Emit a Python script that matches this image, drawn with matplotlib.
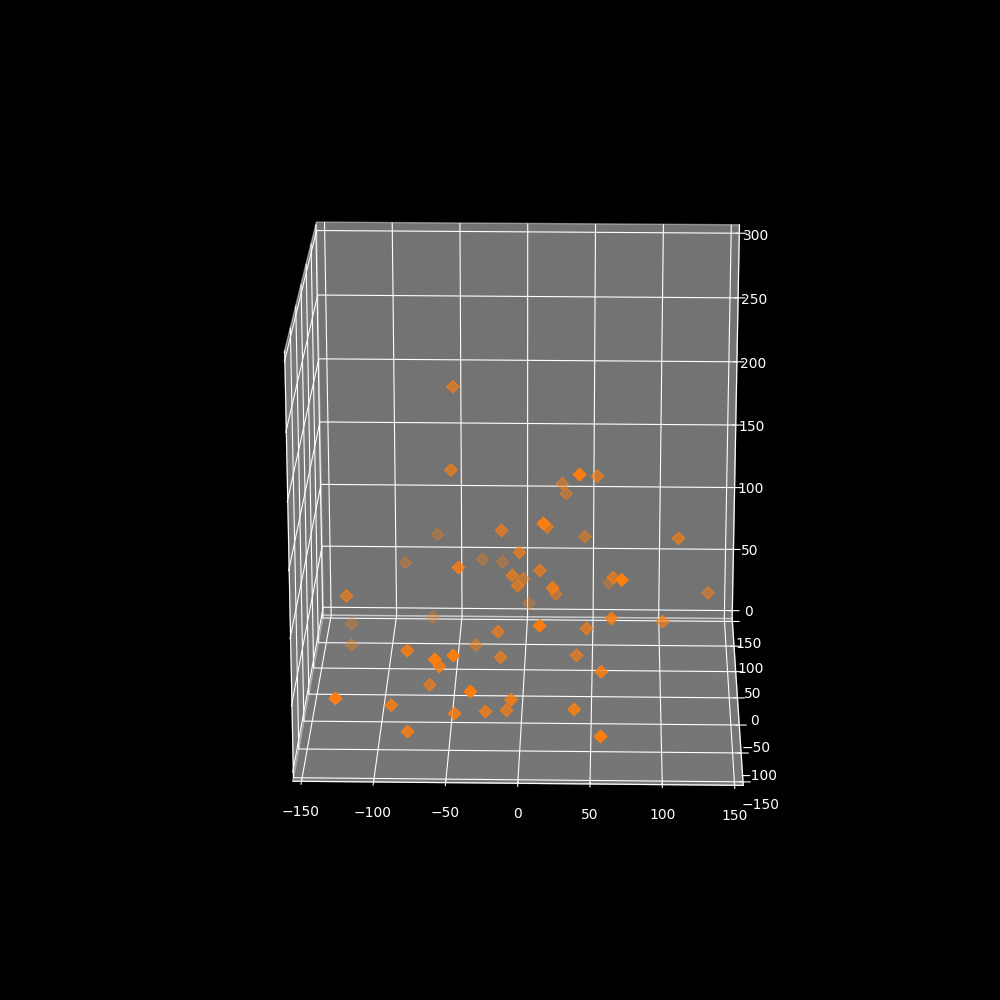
import matplotlib
matplotlib.use('Agg')
import matplotlib.pyplot as plt
import numpy as np

plt.style.use('dark_background')

xs = [-52, -53, -67, -16, -91, -45, -33, -18, -128, -3, -8, -4, -1, 41, 53, 27, 30, 16, 17, 44, 112, 12, 65, 71, 62, 22, 23, 135, 2, 64, 101, 14, 46, -18, -131, -70, -130, -36, -81, -59, -58, -46, -16, -67, -34, -128, -92, -47, -26, -11, -7, -80, 39, 57, 38, 57]
ys = [60, 40, 130, 25, 120, -35, 120, 120, 10, 20, 15, 10, 65, -65, 40, 90, 85, -75, 25, 75, 25, 15, 15, -90, 115, -40, 60, 60, 110, -45, 0, -100, 0, 0, 105, 105, 85, 50, -55, -110, -60, -110, -5, -15, -115, -120, -70, -70, -40, -35, -65, -80, -5, -60, -70, -125]
zs = [211, 154, 70, 113, 51, 107, 54, 52, 67, 98, 82, 76, 60, 189, 150, 126, 120, 156, 116, 90, 108, 86, 81, 120, 38, 94, 50, 52, 23, 73, 53, 89, 47, 44, 7, 13, -2, 13, 51, 67, 41, 70, 26, 8, 45, 41, 15, 9, -2, -3, 18, -1, 28, 38, 13, 16]

fig = plt.figure(figsize=(10, 10), dpi=100)
ax = fig.add_subplot(projection='3d')
ax.scatter(xs, ys, zs, c='#ff7f0e', marker='D', s=40)
ax.set_xlim(-156, 156)
ax.set_ylim(-156, 156)
ax.set_zlim(-6.5, 306.5)
ax.set_xticks(np.arange(-150, 151, 50))
ax.set_yticks(np.arange(-150, 151, 50))
ax.set_zticks(np.arange(0, 301, 50))
ax.set_box_aspect((1, 1, 1), zoom=0.953)
ax.view_init(elev=20, azim=-88.7)
fig.savefig('out.png', dpi=100)
